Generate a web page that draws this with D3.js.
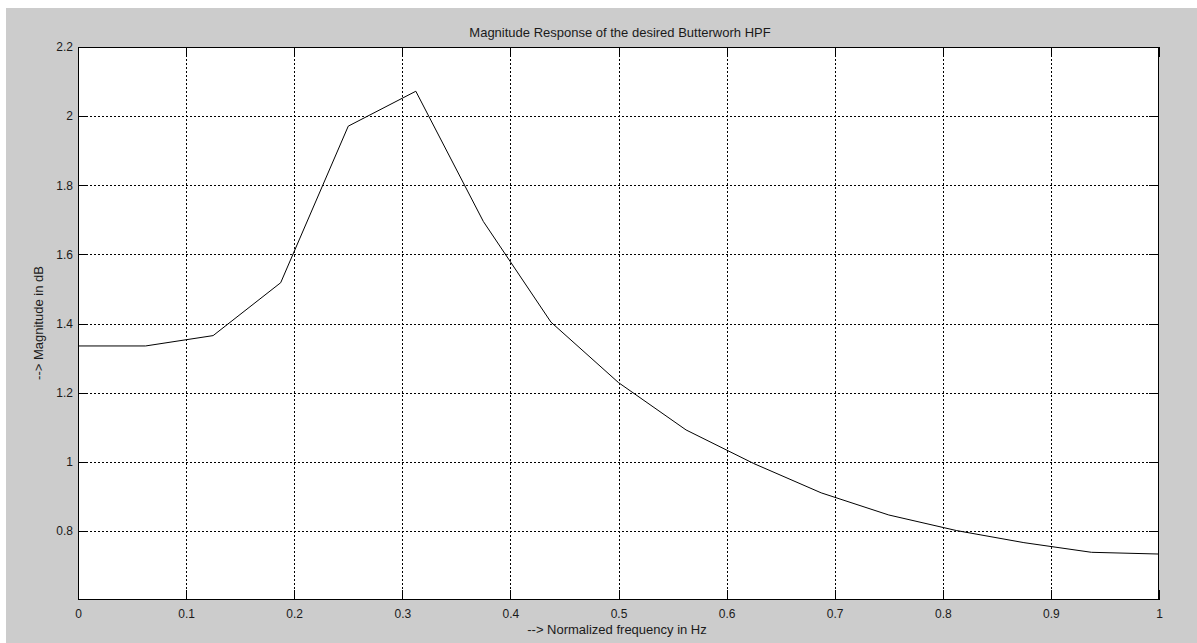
<!DOCTYPE html>
<html>
<head>
<meta charset="utf-8">
<script src="https://cdn.jsdelivr.net/npm/d3@7"></script>
<style>
  html, body { margin: 0; padding: 0; background: #ffffff; }
  svg { display: block; }
  text { font-family: "Liberation Sans", Arial, sans-serif; fill: #1a1a1a; }
</style>
</head>
<body>
<svg id="chart" width="1197" height="643"></svg>
<script>
// ---- data ----
const freq = [0, 0.0625, 0.125, 0.1875, 0.25, 0.3125, 0.375, 0.4375, 0.5, 0.5625, 0.625, 0.6875, 0.75, 0.8125, 0.875, 0.9375, 1];
const magnitude = [1.335, 1.335, 1.365, 1.518, 1.971, 2.072, 1.695, 1.404, 1.229, 1.092, 0.995, 0.910, 0.846, 0.801, 0.766, 0.738, 0.733];
const xTicks = [0, 0.1, 0.2, 0.3, 0.4, 0.5, 0.6, 0.7, 0.8, 0.9, 1];
const yTicks = [0.8, 1, 1.2, 1.4, 1.6, 1.8, 2, 2.2];
const titleText = "Magnitude Response of the desired Butterworh HPF";
const xLabelText = "--> Normalized frequency in Hz";
const yLabelText = "--> Magnitude in dB";

// ---- layout ----
const W = 1197, H = 643;
const plot = { left: 78, top: 47, right: 1159, bottom: 600 };
const tickLen = 10;

const svg = d3.select("#chart");

// grey figure background
svg.append("rect").attr("x", 6).attr("y", 8).attr("width", W - 6).attr("height", H - 8).attr("fill", "#cccccc");

// plot area
svg.append("rect")
  .attr("x", plot.left).attr("y", plot.top)
  .attr("width", plot.right - plot.left).attr("height", plot.bottom - plot.top)
  .attr("fill", "#ffffff");

const x = d3.scaleLinear().domain([0, 1]).range([plot.left, plot.right]);
const y = d3.scaleLinear().domain([0.6, 2.2]).range([plot.bottom, plot.top]);

const px = v => Math.round(v) + 0.5;

// grid lines
const grid = svg.append("g").attr("stroke", "#000").attr("stroke-width", 1)
  .attr("stroke-dasharray", "2,2").attr("shape-rendering", "crispEdges");
xTicks.filter(t => t > 0 && t < 1).forEach(t => {
  grid.append("line").attr("x1", px(x(t))).attr("x2", px(x(t)))
    .attr("y1", plot.top).attr("y2", plot.bottom);
});
yTicks.filter(t => t < 2.2).forEach(t => {
  grid.append("line").attr("y1", px(y(t))).attr("y2", px(y(t)))
    .attr("x1", plot.left).attr("x2", plot.right);
});

// data line
const line = d3.line().x((d, i) => x(freq[i])).y(d => y(d));
svg.append("path").datum(magnitude)
  .attr("d", line).attr("fill", "none")
  .attr("stroke", "#000").attr("stroke-width", 1);

// axes (inner ticks) using d3 axes
const xAxisB = d3.axisBottom(x).tickValues(xTicks).tickSize(-tickLen).tickFormat(d3.format("~g")).tickPadding(9.5);
const xAxisT = d3.axisTop(x).tickValues(xTicks).tickSize(-tickLen).tickFormat("");
const yAxisL = d3.axisLeft(y).tickValues(yTicks).tickSize(-tickLen).tickFormat(d3.format("~g")).tickPadding(5);
const yAxisR = d3.axisRight(y).tickValues(yTicks).tickSize(-tickLen).tickFormat("");

function styleAxis(g) {
  g.select(".domain").remove();
  g.selectAll(".tick line").attr("stroke", "#000").attr("shape-rendering", "crispEdges");
  g.selectAll(".tick text").attr("font-size", 12).attr("fill", "#1a1a1a")
    .attr("font-family", "'Liberation Sans', Arial, sans-serif");
}
svg.append("g").attr("transform", `translate(0,${plot.bottom})`).call(xAxisB).call(styleAxis);
svg.append("g").attr("transform", `translate(0,${plot.top})`).call(xAxisT).call(styleAxis);
svg.append("g").attr("transform", `translate(${plot.left},0)`).call(yAxisL).call(styleAxis);
svg.append("g").attr("transform", `translate(${plot.right},0)`).call(yAxisR).call(styleAxis);

// box
svg.append("rect")
  .attr("x", plot.left + 0.5).attr("y", plot.top + 0.5)
  .attr("width", plot.right - plot.left - 1).attr("height", plot.bottom - plot.top - 1)
  .attr("fill", "none").attr("stroke", "#000").attr("stroke-width", 1)
  .attr("shape-rendering", "crispEdges");

// title & labels
svg.append("text").attr("x", 620).attr("y", 37).attr("text-anchor", "middle")
  .attr("font-size", 13).text(titleText);
svg.append("text").attr("x", 617).attr("y", 634).attr("text-anchor", "middle")
  .attr("font-size", 13).text(xLabelText);
svg.append("text").attr("transform", "translate(43,323) rotate(-90)").attr("text-anchor", "middle")
  .attr("font-size", 13).text(yLabelText);
</script>
</body>
</html>
